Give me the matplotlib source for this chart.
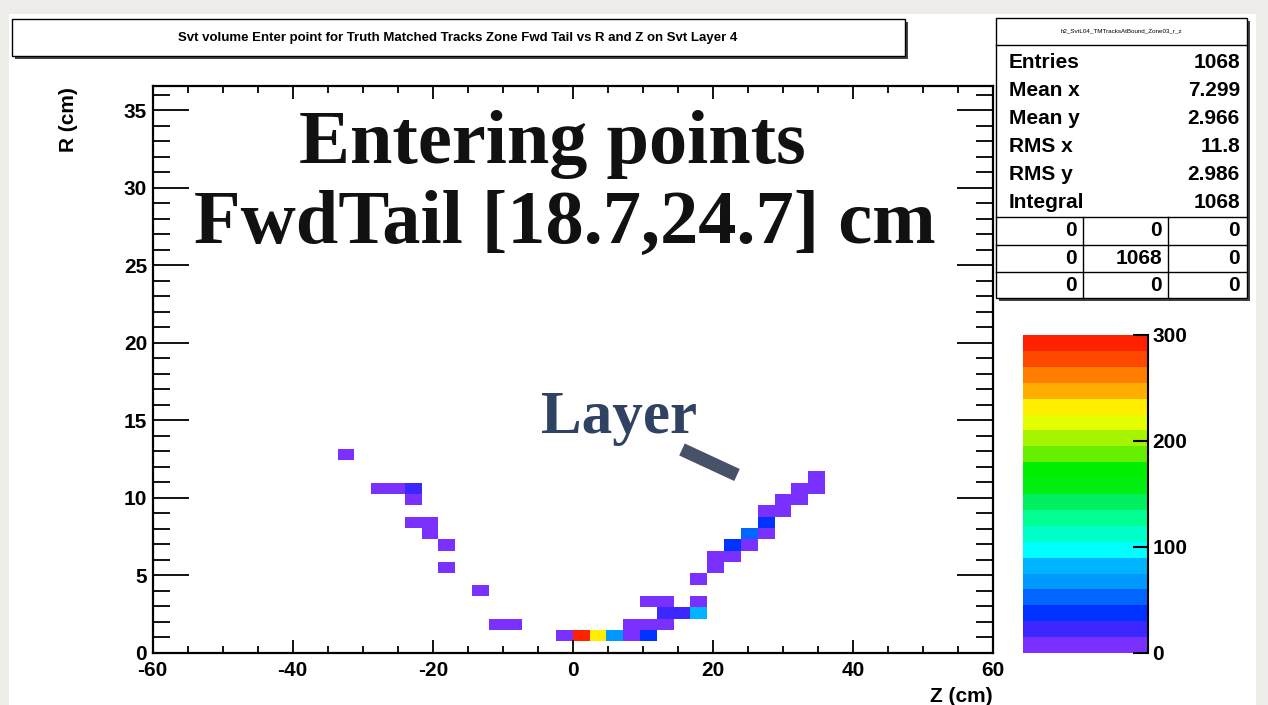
import numpy as np
import matplotlib
matplotlib.use("Agg")
import matplotlib.pyplot as plt
from matplotlib.colors import ListedColormap, BoundaryNorm
from matplotlib.patches import Rectangle
from matplotlib.lines import Line2D

plt.rcParams["axes.unicode_minus"] = False

W, H = 1268, 705

# ROOT TH2 binning: 50 x 50
z_edges = np.linspace(-60, 60, 51)
r_edges = np.linspace(0, 36.6, 51)

# filled cells: Z centre, R centre, entries
cell_z = [-32.4, -27.6, -25.2, -22.8, -22.8, -22.8, -20.4, -20.4, -18.0, -18.0,
          -13.2, -10.8, -8.4,
          -1.2, 1.2, 3.6, 6.0, 8.4, 10.8,
          8.4, 10.8, 13.2,
          13.2, 15.6, 18.0,
          10.8, 13.2, 18.0,
          18.0, 20.4, 20.4, 22.8, 22.8, 25.2, 25.2, 27.6, 27.6, 27.6,
          30.0, 30.0, 32.4, 32.4, 34.8, 34.8]
cell_r = [12.8, 10.6, 10.6, 10.6, 9.9, 8.4, 8.4, 7.7, 7.0, 5.5,
          4.0, 1.8, 1.8,
          1.1, 1.1, 1.1, 1.1, 1.1, 1.1,
          1.8, 1.8, 1.8,
          2.6, 2.6, 2.6,
          3.3, 3.3, 3.3,
          4.8, 5.5, 6.2, 6.2, 7.0, 7.0, 7.7, 7.7, 8.4, 9.2,
          9.2, 9.9, 9.9, 10.6, 10.6, 11.3]
cell_n = [4, 6, 7, 18, 8, 6, 7, 5, 6, 4,
          3, 5, 6,
          8, 298, 232, 72, 13, 40,
          11, 10, 8,
          20, 22, 76,
          5, 6, 7,
          3, 2, 3, 2, 38, 2, 52, 2, 42, 3,
          2, 2, 2, 2, 2, 2]

# colour contours (20 levels, 0..300)
levels = np.arange(0, 301, 15)
palette = ["#7a30ff", "#3c28ff", "#0033ff", "#0066ff", "#0099ff",
           "#00b4ff", "#00ffff", "#00ffc8", "#00ff90", "#00f060",
           "#00ee10", "#00ee00", "#66f000", "#a5f500", "#e5ff00",
           "#ffee00", "#ffae00", "#ff7e00", "#ff4800", "#ff2200"]
cbar_ticks = [0, 100, 200, 300]

title = "Svt volume Enter point for Truth Matched Tracks Zone Fwd Tail vs R and Z on Svt Layer 4"
hist_name = "h2_SvtL04_TMTracksAtBound_Zone03_r_z"
stats_labels = ["Entries", "Mean x", "Mean y", "RMS x", "RMS y", "Integral"]
stats_values = ["1068", "7.299", "2.966", "11.8", "2.986", "1068"]
overflow = [["0", "0", "0"], ["0", "1068", "0"], ["0", "0", "0"]]

SANS = "Liberation Sans"
SERIF = "Liberation Serif"


def fx(x):
    return x / W


def fy(y):
    return 1 - y / H


fig = plt.figure(figsize=(W / 100, H / 100), dpi=100)
fig.patch.set_facecolor("#efede9")
fig.patches.append(Rectangle((fx(9), 0), fx(1256) - fx(9), fy(14), transform=fig.transFigure,
                             facecolor="white", edgecolor="none", zorder=-5))

# main frame
ax = fig.add_axes([fx(152.7), fy(652.7), fx(993) - fx(152.7), fy(85.7) - fy(652.7)])
ax.set_facecolor("none")
counts, _, _ = np.histogram2d(cell_z, cell_r, bins=[z_edges, r_edges], weights=cell_n)
cmap = ListedColormap(palette)
norm = BoundaryNorm(levels, cmap.N)
mesh = ax.pcolormesh(z_edges, r_edges, np.ma.masked_equal(counts.T, 0), cmap=cmap, norm=norm)
ax.set_xlim(-60, 60)
ax.set_ylim(0, 36.6)
ax.set_xticks(np.arange(-60, 61, 20))
ax.set_xticks(np.arange(-60, 61, 5), minor=True)
ax.set_yticks(np.arange(0, 36, 5))
ax.set_yticks(np.arange(0, 37, 1), minor=True)
ax.tick_params(which="both", direction="in", top=True, right=True, width=1.3, labelsize=15)
ax.tick_params(axis="x", which="major", length=9.5, pad=6)
ax.tick_params(axis="x", which="minor", length=4.7)
ax.tick_params(axis="y", which="major", length=26, pad=4)
ax.tick_params(axis="y", which="minor", length=12)
for lab in ax.get_xticklabels() + ax.get_yticklabels():
    lab.set_fontfamily(SANS)
    lab.set_fontweight("bold")
for sp in ax.spines.values():
    sp.set_linewidth(1.6)

fig.text(fx(68), fy(87), "R (cm)", rotation=90, ha="center", va="top",
         fontsize=15, family=SANS, weight="bold")
fig.text(fx(993), fy(697), "Z (cm)", ha="right", va="center",
         fontsize=15, family=SANS, weight="bold")

# palette axis
cax = fig.add_axes([fx(1022.7), fy(653), fx(1148) - fx(1022.7), fy(335) - fy(653)])
cb = fig.colorbar(mesh, cax=cax, ticks=cbar_ticks)
cb.outline.set_visible(False)
cax.add_line(Line2D([1, 1], [0, 1], transform=cax.transAxes, color="black", lw=1.5, clip_on=False))
cax.tick_params(direction="in", length=11, width=1.5, labelsize=15, pad=3)
cax.minorticks_off()
for lab in cax.get_yticklabels():
    lab.set_fontfamily(SANS)
    lab.set_fontweight("bold")


def pave(x0, y0, x1, y1):
    fig.patches.append(Rectangle((fx(x0 + 3), fy(y1 + 3)), fx(x1) - fx(x0), fy(y0) - fy(y1),
                                 transform=fig.transFigure, facecolor="#444444",
                                 edgecolor="none", zorder=2))
    fig.patches.append(Rectangle((fx(x0), fy(y1)), fx(x1) - fx(x0), fy(y0) - fy(y1),
                                 transform=fig.transFigure, facecolor="white",
                                 edgecolor="black", lw=1.0, zorder=3))


# title pave
pave(12, 19, 905, 56)
fig.text(fx(458), fy(38), title, ha="center", va="center", fontsize=9.5,
         family=SANS, weight="bold", zorder=4)

# stats pave
pave(996, 18, 1247, 298)
fig.add_artist(Line2D([fx(996), fx(1247)], [fy(45), fy(45)], color="black", lw=1.0, zorder=4))
fig.text(fx(1121), fy(31), hist_name, ha="center", va="center", fontsize=4.5,
         family=SANS, zorder=4)
for k, (lab, val) in enumerate(zip(stats_labels, stats_values)):
    yy = 62 + k * 28
    fig.text(fx(1009), fy(yy), lab, ha="left", va="center", fontsize=15,
             family=SANS, weight="bold", zorder=4)
    fig.text(fx(1240), fy(yy), val, ha="right", va="center", fontsize=15,
             family=SANS, weight="bold", zorder=4)
grid_top = 217
row_h = 27.5
for r in range(3):
    y_line = grid_top + r * row_h
    fig.add_artist(Line2D([fx(996), fx(1247)], [fy(y_line), fy(y_line)], color="black", lw=1.0, zorder=4))
for xl in (1083, 1168):
    fig.add_artist(Line2D([fx(xl), fx(xl)], [fy(grid_top), fy(298)], color="black", lw=1.0, zorder=4))
col_right = [1077, 1162, 1240]
for r, row in enumerate(overflow):
    yy = grid_top + (r + 0.5) * row_h
    for c, val in enumerate(row):
        fig.text(fx(col_right[c]), fy(yy), val, ha="right", va="center", fontsize=15,
                 family=SANS, weight="bold", zorder=4)

# slide annotations
fig.text(fx(552), fy(163), "Entering points", ha="center", va="baseline", fontsize=55,
         family=SERIF, weight="bold", color="#111111")
fig.text(fx(565), fy(243), "FwdTail [18.7,24.7] cm", ha="center", va="baseline", fontsize=55,
         family=SERIF, weight="bold", color="#111111")
fig.text(fx(541), fy(433), "Layer", ha="left", va="baseline", fontsize=44,
         family=SERIF, weight="bold", color="#2f4262")
fig.add_artist(Line2D([fx(682), fx(737)], [fy(449.5), fy(475)], color="#475268",
                      lw=9.5, solid_capstyle="butt"))

fig.savefig("out.png", dpi=100)
